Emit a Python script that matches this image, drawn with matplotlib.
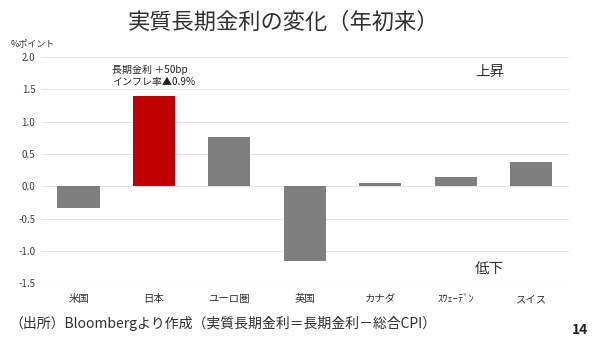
import matplotlib as mpl; mpl.use('agg')
import matplotlib.pyplot as plt

plt.rcParams['font.family'] = ['Noto Sans CJK JP', 'DejaVu Sans']

countries = ['米国', '日本', 'ユーロ圏', '英国', 'カナダ', 'ｽｳｪｰﾃﾞﾝ', 'スイス']
real_yield_chg = [-0.34, 1.39, 0.76, -1.15, 0.05, 0.14, 0.38]
bar_colors = ['#7f7f7f', '#c00000', '#7f7f7f', '#7f7f7f', '#7f7f7f', '#7f7f7f', '#7f7f7f']
yticks = [-1.5, -1.0, -0.5, 0.0, 0.5, 1.0, 1.5, 2.0]

fig = plt.figure(figsize=(6.0, 3.44), dpi=100)
ax = fig.add_axes([0.068, 0.177, 0.88, 0.657])

x = range(len(countries))
ax.bar(x, real_yield_chg, width=0.56, color=bar_colors, zorder=3)

ax.set_xlim(-0.5, len(countries) - 0.5)
ax.set_ylim(-1.5, 2.0)
ax.set_yticks(yticks)
ax.set_yticklabels(['%.1f' % v for v in yticks], fontsize=7, color='#404040')
ax.set_xticks(list(x))
ax.set_xticklabels(countries, fontsize=7.5, color='#303030')
ax.tick_params(length=0, pad=4)
ax.tick_params(axis='x', pad=8)
ax.grid(axis='y', color='#e4e4e4', linewidth=0.8, zorder=0)
for s in ax.spines.values():
    s.set_visible(False)

# titles and notes
fig.text(0.472, 0.935, '実質長期金利の変化（年初来）', ha='center', va='center',
         fontsize=16, color='#303030')
fig.text(0.018, 0.872, '%ポイント', ha='left', va='center', fontsize=6.5, color='#303030')
ax.text(0.44, 1.71, '長期金利 ＋50bp\nインフレ率▲0.9%', ha='left', va='center',
        fontsize=7.2, color='#202020', linespacing=1.25)
ax.text(5.45, 1.77, '上昇', ha='center', va='center', fontsize=10.5, color='#303030')
ax.text(5.45, -1.28, '低下', ha='center', va='center', fontsize=10.5, color='#303030')
fig.text(0.015, 0.06, '（出所）Bloombergより作成（実質長期金利＝長期金利－総合CPI）',
         ha='left', va='center', fontsize=10, color='#303030')
fig.text(0.967, 0.04, '14', ha='center', va='center', fontsize=10, fontweight='bold',
         color='#202020')

fig.savefig('out.png', dpi=100, facecolor='white')
